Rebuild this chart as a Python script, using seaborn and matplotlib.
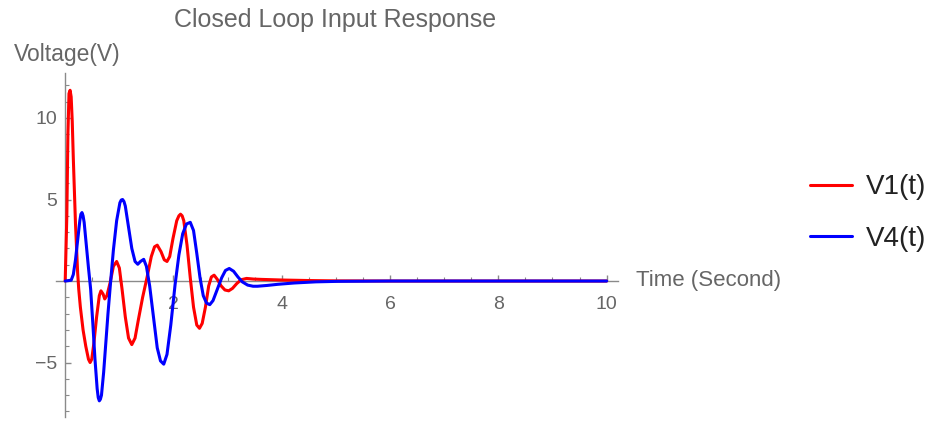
import numpy as np
import pandas as pd
import matplotlib
matplotlib.use("Agg")
import matplotlib.pyplot as plt
import seaborn as sns
from matplotlib.lines import Line2D
from matplotlib.ticker import MultipleLocator, FixedLocator

# ---- data ----
t_v1 = [0, 0.03, 0.05, 0.07, 0.09, 0.11, 0.13, 0.15, 0.17, 0.19, 0.21, 0.23, 0.25,
        0.28, 0.33, 0.38, 0.43, 0.46, 0.49, 0.53, 0.58, 0.63, 0.66, 0.70, 0.73, 0.77,
        0.83, 0.89, 0.95, 1.00, 1.05, 1.11, 1.17, 1.23, 1.29, 1.35, 1.43, 1.51, 1.59,
        1.65, 1.70, 1.77, 1.83, 1.88, 1.93, 1.99, 2.06, 2.10, 2.13, 2.16, 2.19, 2.25,
        2.31, 2.37, 2.43, 2.48, 2.53, 2.59, 2.65, 2.70, 2.75, 2.81, 2.88, 2.95, 3.02,
        3.09, 3.17, 3.25, 3.35, 3.48, 3.63, 3.83, 4.03, 4.5, 5.0, 6.0, 7.0, 8.0, 9.0, 10.0]
v1 = [0, 4.0, 9.0, 11.5, 11.7, 11.3, 9.8, 7.5, 5.5, 3.5, 2.0, 0.5, -0.5,
      -1.6, -3.0, -4.0, -4.8, -5.0, -4.8, -3.8, -2.2, -0.9, -0.6, -0.8, -1.1, -0.9,
      -0.1, 0.9, 1.2, 0.8, -0.5, -2.2, -3.5, -3.9, -3.5, -2.4, -1.0, 0.2, 1.5,
      2.1, 2.2, 1.8, 1.3, 1.2, 1.5, 2.6, 3.7, 4.0, 4.1, 4.0, 3.7, 2.2,
      0.2, -1.6, -2.7, -2.9, -2.6, -1.6, -0.3, 0.25, 0.36, 0.1, -0.3, -0.55, -0.6,
      -0.45, -0.15, 0.08, 0.16, 0.12, 0.1, 0.08, 0.06, 0.03, 0.01, 0.0, 0.0, 0.0, 0.0, 0.0]

t_v4 = [0, 0.11, 0.15, 0.19, 0.23, 0.27, 0.29, 0.31, 0.33, 0.35, 0.39, 0.43, 0.47,
        0.51, 0.55, 0.59, 0.61, 0.63, 0.65, 0.67, 0.71, 0.75, 0.79, 0.84, 0.89, 0.95,
        1.01, 1.035, 1.06, 1.085, 1.11, 1.17, 1.23, 1.29, 1.34, 1.39, 1.45, 1.50, 1.56,
        1.63, 1.70, 1.76, 1.82, 1.88, 1.95, 2.03, 2.10, 2.17, 2.24, 2.31, 2.37, 2.43,
        2.49, 2.55, 2.61, 2.67, 2.73, 2.81, 2.89, 2.96, 3.03, 3.11, 3.19, 3.27, 3.37,
        3.47, 3.55, 3.73, 3.93, 4.23, 4.63, 5.03, 6.0, 7.0, 8.0, 9.0, 10.0]
v4 = [0, 0.05, 0.4, 1.3, 2.5, 3.7, 4.1, 4.2, 4.0, 3.6, 2.2, 0.8, -0.5,
      -2.6, -4.8, -6.6, -7.15, -7.35, -7.25, -7.0, -5.6, -3.8, -2.0, 0.0, 1.9, 3.7,
      4.8, 4.97, 5.0, 4.88, 4.6, 3.3, 2.0, 1.2, 1.03, 1.2, 1.33, 0.9, -0.3,
      -2.2, -4.1, -4.9, -5.1, -4.5, -2.7, -0.2, 1.6, 2.9, 3.5, 3.6, 3.1, 1.7,
      0.2, -0.9, -1.35, -1.45, -1.2, -0.5, 0.2, 0.65, 0.77, 0.6, 0.25, -0.05, -0.25,
      -0.32, -0.32, -0.27, -0.2, -0.12, -0.05, -0.02, 0.0, 0.0, 0.0, 0.0, 0.0]

series_names = ["V1(t)", "V4(t)"]
series_colors = ["#ff0000", "#0000ff"]
x_ticks = [2, 4, 6, 8, 10]
y_ticks = [-5, 5, 10]

df = pd.concat([
    pd.DataFrame({"t": t_v1, "v": v1, "series": series_names[0]}),
    pd.DataFrame({"t": t_v4, "v": v4, "series": series_names[1]}),
], ignore_index=True)

sns.set_theme(style="white")
plt.rcParams["font.family"] = ["Liberation Sans", "DejaVu Sans"]

W, H = 932, 421
fig = plt.figure(figsize=(W / 100, H / 100), dpi=100)
ax = fig.add_axes([56 / W, (H - 417) / H, 562 / W, 344 / H])

sns.lineplot(data=df, x="t", y="v", hue="series", palette=dict(zip(series_names, series_colors)),
             linewidth=2.2, legend=False, ax=ax, sort=False, estimator=None)

ax.set_xlim(-0.17, 10.21)
ax.set_ylim(-8.34, 12.76)

axis_col = "#8a8a8a"
label_col = "#666666"
for s in ["top", "right"]:
    ax.spines[s].set_visible(False)
ax.spines["left"].set_position(("data", 0))
ax.spines["bottom"].set_position(("data", 0))
for s in ["left", "bottom"]:
    ax.spines[s].set_color(axis_col)
    ax.spines[s].set_linewidth(1.0)
    ax.spines[s].set_zorder(0.5)

ax.xaxis.set_major_locator(FixedLocator(x_ticks))
ax.yaxis.set_major_locator(FixedLocator(y_ticks))
ax.xaxis.set_minor_locator(MultipleLocator(0.5))
ax.yaxis.set_minor_locator(MultipleLocator(1))
ax.tick_params(axis="both", which="both", bottom=True, left=True, top=False, right=False)
ax.tick_params(axis="both", which="major", direction="in", length=4.5, width=1,
               color=axis_col, labelcolor=label_col, labelsize=14)
ax.tick_params(axis="both", which="minor", direction="in", length=3, width=0.8,
               color=axis_col)
ax.tick_params(axis="x", which="major", pad=11)
ax.tick_params(axis="y", which="major", pad=6)
ax.set_xlabel("")
ax.set_ylabel("")

fig.text(14 / W, 1 - 60.5 / H, "Voltage(V)", color=label_col, fontsize=16.5, va="baseline", ha="left")
fig.text(636 / W, 1 - 286 / H, "Time (Second)", color=label_col, fontsize=16, va="baseline", ha="left")
fig.text(335 / W, 1 - 26.5 / H, "Closed Loop Input Response", color=label_col, fontsize=18,
         va="baseline", ha="center")

handles = [Line2D([0], [0], color=c, lw=2.2) for c in series_colors]
fig.legend(handles, series_names, loc="center left", bbox_to_anchor=(810 / W, 1 - 213 / H),
           frameon=False, fontsize=20, handlelength=1.5, handletextpad=0.5, labelspacing=0.9,
           borderpad=0, borderaxespad=0, labelcolor="#222222")

fig.savefig("out.png", dpi=100)
